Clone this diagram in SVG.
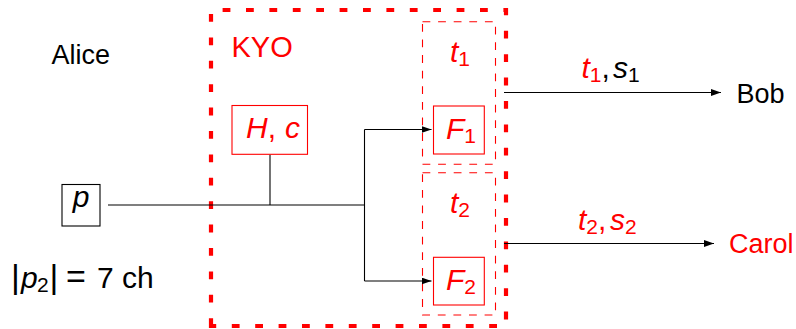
<svg xmlns="http://www.w3.org/2000/svg" width="796" height="329" viewBox="0 0 796 329">
<style>
text{font-family:"Liberation Sans",Arial,sans-serif;fill:#000}
.t{font-size:27px}
.m{font-size:30px}
.i{font-style:italic}
.sub{font-size:21px;font-style:normal}
.red{fill:#f00}
.box{fill:#fff;stroke:#f00;stroke-width:1.1}
.dbox{fill:none;stroke:#f00;stroke-width:1.1;stroke-dasharray:7.8 7.8}
.big{fill:none;stroke:#f00;stroke-width:4.2;stroke-dasharray:7.8 15.6}
.ln{fill:none;stroke:#000;stroke-width:1.1}
.arr{fill:none;stroke:#000;stroke-width:1.1;marker-end:url(#ah)}
</style>
<defs>
<marker id="ah" markerUnits="userSpaceOnUse" viewBox="0 0 10 7" refX="10" refY="3.5" markerWidth="10" markerHeight="7" orient="auto">
<path d="M0,0 L10,3.5 L0,7 Z" fill="#000"/>
</marker>
</defs>

<g id="kyo">
<path class="big" d="M211,326 V10 H506 V326 Z"/>
<text class="red" x="231.5" y="56.5" style="font-size:29px">KYO</text>
</g>

<g id="slot1">
<rect class="dbox" x="422.5" y="21.7" width="73" height="142.6"/>
<text class="m red" x="450" y="61.7"><tspan class="i">t</tspan><tspan class="sub" dy="4">1</tspan></text>
</g>
<g id="slot2">
<rect class="dbox" x="422.5" y="172.7" width="73" height="142.3"/>
<text class="m red" x="450" y="213"><tspan class="i">t</tspan><tspan class="sub" dy="4">2</tspan></text>
</g>

<g id="alice"><text class="t" x="51.5" y="63.5">Alice</text></g>

<g id="p">
<rect x="62" y="184.5" width="38" height="41.5" fill="#fff" stroke="#000" stroke-width="1.1"/>
<text class="m i" x="81" y="206.7" text-anchor="middle">p</text>
</g>

<g id="len">
<text class="m" y="288.3"><tspan x="11" style="font-size:34px">|</tspan><tspan x="21" class="i">p</tspan><tspan x="37" class="sub" dy="4">2</tspan><tspan x="49.5" dy="-4" style="font-size:34px">|</tspan><tspan x="66" style="font-size:34px">=</tspan><tspan x="97">7 ch</tspan></text>
</g>

<g id="connectors">
<path class="ln" d="M108,205 H364.5"/>
<path class="ln" d="M270,154.5 V205"/>
<path class="ln" d="M364.5,129.5 V281"/>
<path class="arr" d="M364.5,129.5 H431.5"/>
<path class="arr" d="M364.5,281 H431.5"/>
<path class="arr" d="M504,92.5 H721"/>
<path class="arr" d="M504,243.5 H714"/>
<text class="m" x="581.5" y="78"><tspan class="i red">t</tspan><tspan class="sub red" dy="4">1</tspan><tspan dy="-4">,</tspan><tspan x="613" class="i">s</tspan><tspan class="sub" dy="4">1</tspan></text>
<text class="m red" x="578" y="230"><tspan class="i">t</tspan><tspan class="sub" dy="4">2</tspan><tspan dy="-4">,</tspan><tspan x="610" class="i">s</tspan><tspan class="sub" dy="4">2</tspan></text>
</g>

<g id="hc">
<rect class="box" x="232" y="105.5" width="75.5" height="48.8"/>
<text class="m red" x="246" y="137.7"><tspan class="i">H</tspan><tspan>,</tspan><tspan x="285" class="i">c</tspan></text>
</g>

<g id="f1">
<rect class="box" x="433.5" y="106" width="50.8" height="48"/>
<text class="m red" x="446" y="139.3"><tspan class="i">F</tspan><tspan class="sub" dy="4">1</tspan></text>
</g>
<g id="f2">
<rect class="box" x="433.5" y="257.3" width="50.8" height="47.7"/>
<text class="m red" x="446" y="290"><tspan class="i">F</tspan><tspan class="sub" dy="4">2</tspan></text>
</g>

<g id="bob"><text class="t" x="736.5" y="102.7">Bob</text></g>
<g id="carol"><text class="t red" x="729" y="253.3">Carol</text></g>
</svg>
